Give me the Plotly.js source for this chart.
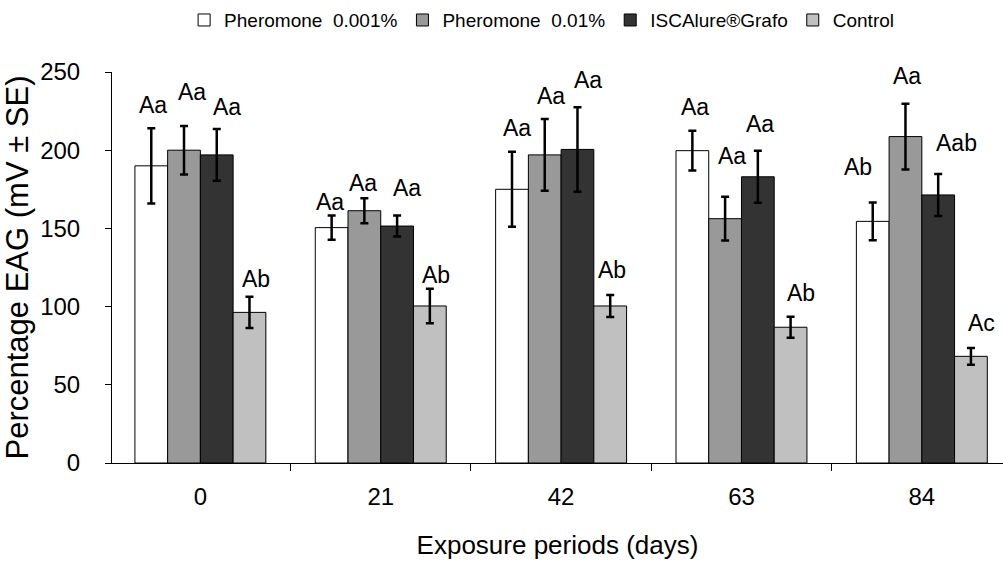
<!DOCTYPE html>
<html>
<head>
<meta charset="utf-8">
<script src="https://cdn.plot.ly/plotly-3.0.1.min.js"></script>
<style>html,body{margin:0;padding:0;background:#fff;}#chart{width:1003px;height:565px;}</style>
</head>
<body>
<div id="chart"></div>
<script>
// ---- data ----
const periods = ['0', '21', '42', '63', '84'];
const seriesNames = ['Pheromone  0.001%', 'Pheromone  0.01%', 'ISCAlure®Grafo', 'Control'];
const pher001 = [190, 150.5, 175, 199.7, 154.5];
const pher001Err = [24, 7.7, 24, 12.7, 12];
const pher01 = [200, 161.3, 197, 156.2, 208.7];
const pher01Err = [15.5, 8, 23, 14, 21];
const iscalure = [197, 151.5, 200.5, 183, 171.4];
const iscalureErr = [16.5, 6.7, 27, 16.6, 13.4];
const control = [96.3, 100.4, 100.4, 86.8, 68.2];
const controlErr = [10, 11, 7, 6.7, 5.4];
const pher001Letters = ['Aa', 'Aa', 'Aa', 'Aa', 'Ab'];
const pher01Letters = ['Aa', 'Aa', 'Aa', 'Aa', 'Aa'];
const iscalureLetters = ['Aa', 'Aa', 'Aa', 'Aa', 'Aab'];
const controlLetters = ['Ab', 'Ab', 'Ab', 'Ab', 'Ac'];

// ---- styling / layout helpers ----
const colors = ['#ffffff', '#999999', '#333333', '#c0c0c0'];
const values = [pher001, pher01, iscalure, control];
const errs = [pher001Err, pher01Err, iscalureErr, controlErr];
const letters = [pher001Letters, pher01Letters, iscalureLetters, controlLetters];
// pixel nudges for letter labels [dx, gap above error cap]
const nudges = [
  [[2, 14], [-2, 5], [5, 15], [3, 15], [-15, 27]],
  [[8, 25], [-1, 6], [6, 14], [7, 32], [2, 19]],
  [[10, 13], [10, 19], [11, 18], [2, 18], [18, 22]],
  [[7, 9], [6, 5], [2, 16], [10, 15], [11, 16]]
];
const bargap = 0.274;
const barW = (1 - bargap) / 4;
const regular = 'Arial, "Liberation Sans", sans-serif';

const traces = values.map((v, j) => ({
  type: 'bar',
  name: seriesNames[j],
  x: periods,
  y: v,
  marker: {color: colors[j], line: {color: '#000', width: 1}},
  error_y: {type: 'data', array: errs[j], visible: true, color: '#000', thickness: 2.5, width: 4}
}));

const annotations = [];
values.forEach((v, j) => {
  v.forEach((val, i) => {
    annotations.push({
      xref: 'x', yref: 'y',
      x: i + (j - 1.5) * barW,
      y: val + errs[j][i],
      text: letters[j][i],
      showarrow: false,
      xanchor: 'center', yanchor: 'bottom',
      xshift: nudges[j][i][0],
      yshift: nudges[j][i][1] - 6,
      font: {family: regular, size: 23, color: '#000'}
    });
  });
});

const layout = {
  width: 1003, height: 565,
  margin: {l: 112, r: 0, t: 72, b: 102},
  paper_bgcolor: '#fff', plot_bgcolor: '#fff',
  barmode: 'group', bargap: bargap, bargroupgap: 0,
  showlegend: true,
  legend: {
    orientation: 'h', xref: 'container', yref: 'container',
    x: 0.54, xanchor: 'center', y: 0.998, yanchor: 'top',
    font: {family: regular, size: 19, color: '#000'},
    itemwidth: 30, tracegroupgap: 0
  },
  xaxis: {
    type: 'category', range: [-0.49, 4.45],
    showline: true, linecolor: '#000', linewidth: 1,
    ticks: 'outside', ticklen: 7, tickcolor: '#000', tickson: 'boundaries',
    showgrid: false, zeroline: false,
    ticklabelstandoff: 12,
    tickfont: {family: regular, size: 24, color: '#000'},
    title: {text: 'Exposure periods (days)', font: {family: regular, size: 26, color: '#000'}, standoff: 27}
  },
  yaxis: {
    range: [0, 250], dtick: 50,
    showline: true, linecolor: '#000', linewidth: 1,
    ticks: 'outside', ticklen: 6, tickcolor: '#000',
    showgrid: false, zeroline: false,
    ticklabelstandoff: 20,
    tickfont: {family: regular, size: 24, color: '#000'},
    title: {text: 'Percentage EAG (mV ± SE)', font: {family: regular, size: 31, color: '#000'}, standoff: 10}
  },
  annotations: annotations
};

Plotly.newPlot('chart', traces, layout, {displayModeBar: false, staticPlot: true});
</script>
</body>
</html>
